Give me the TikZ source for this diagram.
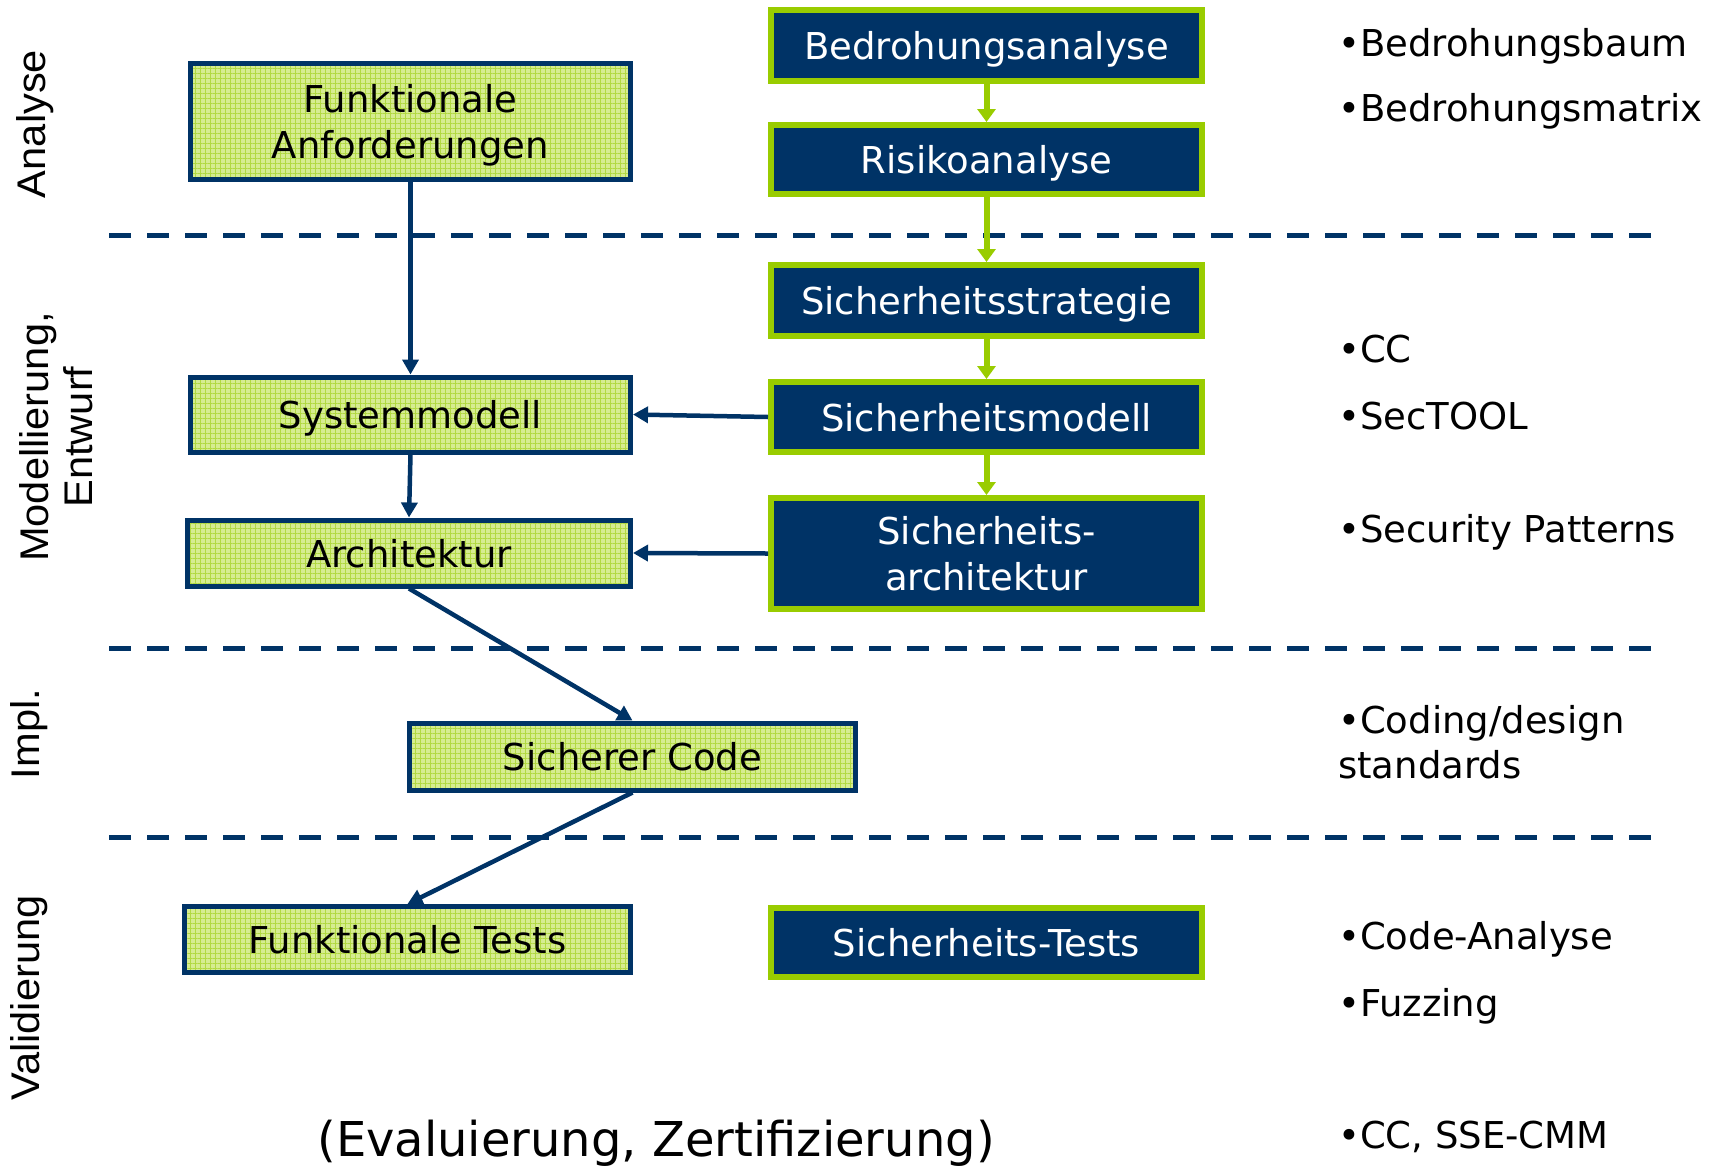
\documentclass[tikz,border=0pt]{standalone}
\usepackage{fontspec}
\setmainfont{DejaVu Sans}
\newfontfamily\sidefont{Liberation Sans}
\usetikzlibrary{arrows.meta,patterns.meta}
\definecolor{navy}{RGB}{0,51,102}
\definecolor{secgreen}{RGB}{153,204,0}
\definecolor{boxgreen}{RGB}{214,236,145}
\definecolor{gridgreen}{RGB}{178,217,66}
\tikzset{
	funcbox/.style={draw=navy, line width=5pt, preaction={fill=boxgreen},
		pattern={Hatch[angle=0,distance=5pt,line width=0.8pt]}, pattern color=gridgreen,
		text=black, align=center, inner sep=0pt, text height=37pt, text depth=9pt,
		font=\fontsize{37}{46}\selectfont},
	secbox/.style={draw=secgreen, line width=6pt, fill=navy, text=white, align=center,
		inner sep=0pt, minimum width=431pt, text height=37pt, text depth=9pt,
		font=\fontsize{37}{46}\selectfont},
	twolines/.style={text height=83pt},
	navyarrow/.style={draw=navy, line width=4.5pt, -{Triangle[length=15pt,width=16pt]}},
	greenarrow/.style={draw=secgreen, line width=6pt, -{Triangle[length=13pt,width=18pt]}},
	phaseline/.style={draw=navy, line width=5pt, dash pattern=on 22pt off 16pt},
	phaselabel/.style={font=\sidefont\fontsize{40}{44}\selectfont, rotate=90, xscale=1.04, align=center},
	methodtext/.style={anchor=base west, inner sep=0pt, align=left, font=\fontsize{37}{45}\selectfont}
}
\begin{document}
\begin{tikzpicture}[x=1pt, y=-1pt]
	\useasboundingbox (0,0) rectangle (1711,1168);

	\draw[phaseline] (109,235) to (1662,235);
	\draw[phaseline] (109,648) to (1662,648);
	\draw[phaseline] (109,837) to (1662,837);

	\node[phaselabel] (analyse) at(35,124){Analyse};
	\node[phaselabel] (modell) at(56,437){Modellierung,\\Entwurf};
	\node[phaselabel] (impl) at(29,734){Impl.};
	\node[phaselabel] (valid) at(29,998){Validierung};

	\node[funcbox, twolines, minimum width=440pt, minimum height=116pt] (anford) at(410.5,121){Funktionale\\Anforderungen};
	\node[funcbox, minimum width=440pt, minimum height=75pt] (sysmod) at(410.5,414.5){Systemmodell};
	\node[funcbox, minimum width=443pt, minimum height=66pt] (archi) at(409,553){Architektur};
	\node[funcbox, minimum width=446pt, minimum height=67pt] (code) at(632.5,756.5){Sicherer Code};
	\node[funcbox, minimum width=446pt, minimum height=66pt] (ftests) at(407.5,939.5){Funktionale Tests};

	\node[secbox, minimum height=71pt] (bedro) at(986.5,45.5){Bedrohungsanalyse};
	\node[secbox, minimum height=69pt] (risiko) at(986.5,159.5){Risikoanalyse};
	\node[secbox, minimum height=71pt] (strat) at(986.5,300.5){Sicherheitsstrategie};
	\node[secbox, minimum height=70pt] (secmod) at(986.5,417){Sicherheitsmodell};
	\node[secbox, twolines, minimum height=111pt] (secarch) at(986.5,553.5){Sicherheits-\\architektur};
	\node[secbox, minimum height=69pt] (stests) at(986.5,942){Sicherheits-Tests};

	\draw[greenarrow] (bedro) to (risiko);
	\draw[greenarrow] (risiko) to (strat);
	\draw[greenarrow] (strat) to (secmod);
	\draw[greenarrow] (secmod) to (secarch);

	\draw[navyarrow] (anford.south) to (sysmod.north);
	\draw[navyarrow] (sysmod.south) to (archi.north);
	\draw[navyarrow] (secmod.west) to (sysmod.east);
	\draw[navyarrow] (secarch.west) to (archi.east);
	\draw[navyarrow] (archi.south) to (code.north);
	\draw[navyarrow] (code.south) to (ftests.north);

	\node[methodtext] (baum) at(1338,56){•Bedrohungsbaum};
	\node[methodtext] (matrix) at(1338,121){•Bedrohungsmatrix};
	\node[methodtext] (cc) at(1338,362){•CC};
	\node[methodtext] (sectool) at(1338,429){•SecTOOL};
	\node[methodtext] (patterns) at(1338,542){•Security Patterns};
	\node[methodtext] (coding) at(1338,778){•Coding/design\\standards};
	\node[methodtext] (analyse2) at(1338,949){•Code-Analyse};
	\node[methodtext] (fuzz) at(1338,1016){•Fuzzing};
	\node[methodtext] (ssecmm) at(1338,1148){•CC, SSE-CMM};

	\node[anchor=base, inner sep=0pt, font=\fontsize{48}{52}\selectfont] (eval) at(656,1156){(Evaluierung, Zertifizierung)};
\end{tikzpicture}
\end{document}
